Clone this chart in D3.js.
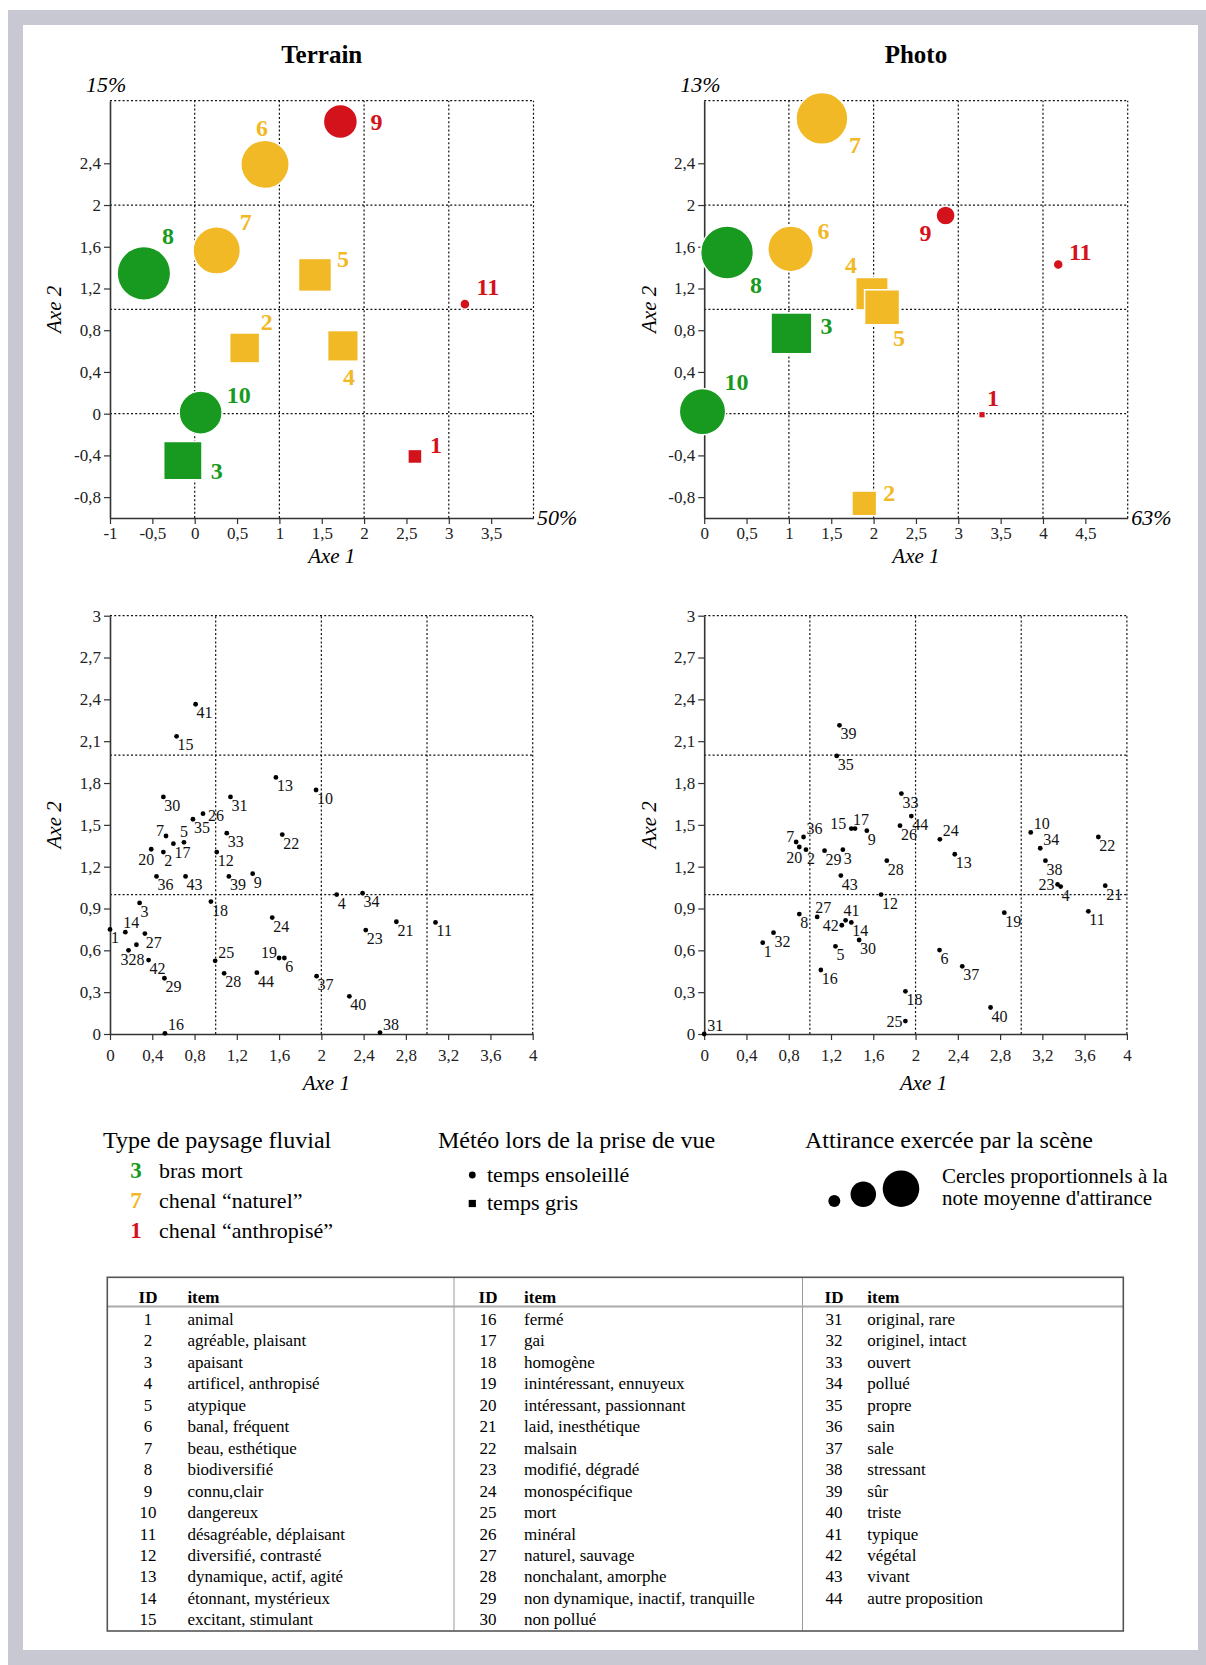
<!DOCTYPE html>
<html>
<head>
<meta charset="utf-8">
<title>Terrain / Photo</title>
<script src="https://cdn.jsdelivr.net/npm/d3@7"></script>
<style>
  body { margin: 0; background: #fff; }
  svg text { font-family: "Liberation Serif", "Times New Roman", serif; }
</style>
</head>
<body>
<svg id="fig" width="1206" height="1665"></svg>
<script>
// ---- scenes (top charts) ----
const sceneIds     = [1, 2, 3, 4, 5, 6, 7, 8, 9, 10, 11];
const sceneType    = ["anthropise", "naturel", "mort", "naturel", "naturel", "naturel", "naturel", "mort", "anthropise", "mort", "anthropise"];
const sceneWeather = ["gris", "gris", "gris", "gris", "gris", "soleil", "soleil", "soleil", "soleil", "soleil", "soleil"];

const terrainSceneX    = [2.60, 0.59, -0.14, 1.75, 1.42, 0.83, 0.26, -0.60, 1.72, 0.07, 3.19];
const terrainSceneY    = [-0.41, 0.63, -0.45, 0.65, 1.33, 2.39, 1.565, 1.345, 2.80, 0.01, 1.05];
const terrainSceneNote = [0.35, 1.59, 2.59, 1.66, 1.92, 3.25, 3.12, 3.99, 1.61, 2.57, 0.14];

const photoSceneX    = [3.28, 1.89, 1.03, 1.98, 2.10, 1.02, 1.39, 0.27, 2.85, -0.02, 4.18];
const photoSceneY    = [-0.01, -0.86, 0.77, 1.15, 1.02, 1.58, 2.83, 1.545, 1.90, 0.02, 1.43];
const photoSceneNote = [0.08, 1.08, 2.94, 1.86, 2.16, 2.89, 3.73, 3.87, 0.51, 2.99, 0.14];

const topXTicksTerrain = [-1, -0.5, 0, 0.5, 1, 1.5, 2, 2.5, 3, 3.5];
const topXTicksPhoto   = [0, 0.5, 1, 1.5, 2, 2.5, 3, 3.5, 4, 4.5];
const topYTicks        = [-0.8, -0.4, 0, 0.4, 0.8, 1.2, 1.6, 2, 2.4];

// ---- items (bottom charts) ----
const itemLabels = ["animal", "agréable, plaisant", "apaisant", "artificel, anthropisé", "atypique",
  "banal, fréquent", "beau, esthétique", "biodiversifié", "connu,clair", "dangereux",
  "désagréable, déplaisant", "diversifié, contrasté", "dynamique, actif, agité", "étonnant, mystérieux", "excitant, stimulant",
  "fermé", "gai", "homogène", "inintéressant, ennuyeux", "intéressant, passionnant",
  "laid, inesthétique", "malsain", "modifié, dégradé", "monospécifique", "mort",
  "minéral", "naturel, sauvage", "nonchalant, amorphe", "non dynamique, inactif, tranquille", "non pollué",
  "original, rare", "originel, intact", "ouvert", "pollué", "propre",
  "sain", "sale", "stressant", "sûr", "triste",
  "typique", "végétal", "vivant", "autre proposition"];

const terrainItemX = [0.00, 0.505, 0.28, 2.145, 0.70, 1.65, 0.53, 0.25, 1.35, 1.95,
  3.08, 1.01, 1.57, 0.145, 0.63, 0.52, 0.60, 0.955, 1.60, 0.39,
  2.71, 1.63, 2.42, 1.535, 0.995, 0.88, 0.33, 1.08, 0.515, 0.505,
  1.14, 0.175, 1.105, 2.39, 0.785, 0.44, 1.955, 2.555, 1.125, 2.265,
  0.81, 0.365, 0.715, 1.39];
const terrainItemY = [0.75, 1.305, 0.94, 1.00, 1.375, 0.545, 1.42, 0.64, 1.15, 1.75,
  0.80, 1.305, 1.84, 0.73, 2.135, 0.005, 1.365, 0.95, 0.545, 1.325,
  0.805, 1.43, 0.745, 0.835, 0.525, 1.58, 0.72, 0.435, 0.40, 1.70,
  1.70, 0.60, 1.44, 1.01, 1.54, 1.13, 0.415, 0.01, 1.13, 0.27,
  2.365, 0.53, 1.13, 0.44];

const photoItemX = [0.554, 0.963, 1.312, 3.373, 1.242, 2.227, 0.87, 0.90, 1.539, 3.09,
  3.635, 1.674, 2.371, 1.392, 1.392, 1.104, 1.427, 1.904, 2.84, 0.90,
  3.795, 3.73, 3.344, 2.23, 1.904, 1.853, 1.069, 1.728, 1.139, 1.466,
  0.00, 0.656, 1.866, 3.18, 1.254, 0.94, 2.442, 3.229, 1.28, 2.71,
  1.338, 1.302, 1.293, 1.96];
const photoItemY = [0.655, 1.322, 1.322, 1.057, 0.629, 0.602, 1.377, 0.86, 1.458, 1.446,
  0.88, 1.00, 1.289, 0.80, 1.473, 0.459, 1.473, 0.306, 0.87, 1.341,
  1.064, 1.413, 1.073, 1.396, 0.093, 1.494, 0.84, 1.243, 1.315, 0.674,
  0.00, 0.727, 1.724, 1.332, 1.994, 1.413, 0.485, 1.243, 2.214, 0.19,
  0.815, 0.78, 1.136, 1.563];

const bottomXTicks = [0, 0.4, 0.8, 1.2, 1.6, 2, 2.4, 2.8, 3.2, 3.6, 4];
const bottomYTicks = [0, 0.3, 0.6, 0.9, 1.2, 1.5, 1.8, 2.1, 2.4, 2.7, 3];

// ---- legend ----
const legendTypes   = [["3", "bras mort", "mort"], ["7", "chenal \u201cnaturel\u201d", "naturel"], ["1", "chenal \u201canthropisé\u201d", "anthropise"]];
const legendWeather = [["soleil", "temps ensoleillé"], ["gris", "temps gris"]];
const legendNotes   = [0.2, 0.9, 1.86];

// ---- styles / layout (not data) ----
const colors = { mort: "#189a20", naturel: "#f2b927", anthropise: "#d4121c" };
const axisColor = "#333";
const terrainLabelOff = {1:[21,-12], 2:[22,-26], 3:[34,10], 4:[6,31], 5:[28,-16], 6:[-3,-37], 7:[29,-29], 8:[24,-38], 9:[36,0], 10:[38,-18], 11:[23,-18]};
const photoLabelOff   = {1:[11,-17], 2:[25,-11], 3:[35,-8], 4:[-21,-29], 5:[17,30], 6:[33,-18], 7:[33,26], 8:[29,32], 9:[-20,17], 10:[34,-30], 11:[22,-13]};
const place = {
  br: [1, 14, "start"], ar: [3, -3, "start"], ab: [-2, -4, "start"], a: [0, -5, "middle"],
  l: [-2, 0, "end"], l3: [-5, 0, "end"], lb: [-3, 6, "end"], bl: [3, 16, "end"], bc: [0, 15, "middle"],
  b8: [0, 20, "start"], r: [5, 7, "start"]
};
const terrainItemPlace = {5:"a", 7:"l", 8:"b8", 14:"ab", 16:"ar", 19:"l", 20:"bl", 25:"ar", 26:"r", 32:"bc", 38:"ar"};
const photoItemPlace   = {7:"l", 10:"ar", 15:"l3", 17:"ab", 20:"bl", 23:"lb", 24:"ar", 25:"lb", 27:"ab", 31:"ar", 34:"ar", 36:"ar", 41:"ab", 42:"lb"};

const fmt = d => String(d).replace(".", ",");
const noteR = d3.scaleSqrt().domain([0, 5]).range([0, 30]);

const svg = d3.select("#fig");

// grey frame
svg.append("rect").attr("x", 8).attr("y", 10).attr("width", 1198).attr("height", 1655).attr("fill", "#c8c8d2");
svg.append("rect").attr("x", 23).attr("y", 25).attr("width", 1175).attr("height", 1625).attr("fill", "#fff");

function styleAxis(g) {
  g.select(".domain").attr("stroke", axisColor).attr("stroke-width", 1.6);
  g.selectAll(".tick line").attr("stroke", axisColor).attr("stroke-width", 1.2);
  g.selectAll(".tick text").attr("font-size", 17).attr("fill", "#222")
    .attr("font-family", "'Liberation Serif', 'Times New Roman', serif");
}

function frame(x, y, xGrid, yGrid, xTicks, yTicks, xPad) {
  const g = svg.append("g");
  const [x0, x1] = x.domain(), [y0, y1] = y.domain();
  g.selectAll(".vg").data(xGrid).join("line")
    .attr("x1", d => x(d)).attr("x2", d => x(d)).attr("y1", y(y0)).attr("y2", y(y1))
    .attr("stroke", "#111").attr("stroke-width", 1.2).attr("stroke-dasharray", "2,2.2");
  g.selectAll(".hg").data(yGrid).join("line")
    .attr("y1", d => y(d)).attr("y2", d => y(d)).attr("x1", x(x0)).attr("x2", x(x1))
    .attr("stroke", "#111").attr("stroke-width", 1.2).attr("stroke-dasharray", "2,2.2");
  g.append("g").attr("transform", `translate(0,${y(y0)})`)
    .call(d3.axisBottom(x).tickValues(xTicks).tickFormat(fmt).tickSize(6).tickPadding(xPad).tickSizeOuter(0))
    .call(styleAxis);
  g.append("g").attr("transform", `translate(${x(x0)},0)`)
    .call(d3.axisLeft(y).tickValues(yTicks).tickFormat(fmt).tickSize(6).tickPadding(3).tickSizeOuter(0))
    .call(styleAxis);
  return g;
}

function axisTitles(x, y, dx1, dy1, ax2x) {
  const [x0, x1] = x.range(), [yb, yt] = y.range();
  svg.append("text").attr("x", (x0 + x1) / 2 + dx1).attr("y", yb + dy1)
    .attr("text-anchor", "middle").attr("font-size", 21).attr("font-style", "italic").text("Axe 1");
  svg.append("text").attr("transform", `translate(${ax2x},${(yb + yt) / 2}) rotate(-90)`)
    .attr("text-anchor", "middle").attr("dy", "0.35em")
    .attr("font-size", 21).attr("font-style", "italic").text("Axe 2");
}

function sceneChart(opt) {
  const x = d3.scaleLinear().domain(opt.xDomain).range([opt.left, opt.left + 423.5]);
  const y = d3.scaleLinear().domain([-1, 3]).range([518, 100.7]);
  frame(x, y, opt.xGrid, [0, 1, 2, 3], opt.xTicks, topYTicks, 3);
  axisTitles(x, y, opt.axe1dx, 45, opt.left - 56);

  svg.append("text").attr("x", opt.left + 211.75).attr("y", 63)
    .attr("text-anchor", "middle").attr("font-size", 25).attr("font-weight", "bold").text(opt.title);
  svg.append("text").attr("x", opt.left - 24).attr("y", 92)
    .attr("font-size", 22).attr("font-style", "italic").text(opt.pctTop);
  svg.append("text").attr("x", opt.left + 427).attr("y", 525)
    .attr("font-size", 22).attr("font-style", "italic").text(opt.pctRight);

  const data = sceneIds.map((id, i) => ({
    id, x: opt.xs[i], y: opt.ys[i], note: opt.notes[i], type: sceneType[i], weather: sceneWeather[i]
  }));
  const g = svg.append("g");
  data.forEach(d => {
    const c = colors[d.type];
    if (d.weather === "gris") {
      const s = noteR(d.note) * Math.sqrt(Math.PI);
      g.append("rect").attr("x", x(d.x) - s / 2).attr("y", y(d.y) - s / 2)
        .attr("width", s).attr("height", s).attr("fill", c).attr("stroke", "#fff").attr("stroke-width", 1.5);
    } else {
      g.append("circle").attr("cx", x(d.x)).attr("cy", y(d.y)).attr("r", noteR(d.note))
        .attr("fill", c).attr("stroke", "#fff").attr("stroke-width", 1.5);
    }
  });
  g.selectAll(".lbl").data(data).join("text")
    .attr("x", d => x(d.x) + opt.labelOff[d.id][0])
    .attr("y", d => y(d.y) + opt.labelOff[d.id][1])
    .attr("dy", "0.35em").attr("text-anchor", "middle")
    .attr("font-size", 24).attr("font-weight", "bold")
    .attr("fill", d => colors[d.type]).text(d => d.id);
}

function itemChart(opt) {
  const x = d3.scaleLinear().domain([0, 4]).range([opt.left, opt.left + 422.7]);
  const y = d3.scaleLinear().domain([0, 3]).range([1034, 615.7]);
  frame(x, y, [1, 2, 3, 4], [1, 2, 3], bottomXTicks, bottomYTicks, 9);
  axisTitles(x, y, opt.axe1dx, 56, opt.left - 56);

  const data = itemLabels.map((lab, i) => ({ id: i + 1, x: opt.xs[i], y: opt.ys[i] }));
  const g = svg.append("g");
  g.selectAll("circle").data(data).join("circle")
    .attr("cx", d => x(d.x)).attr("cy", d => y(d.y)).attr("r", 2.4).attr("fill", "#000");
  g.selectAll("text").data(data).join("text")
    .each(function (d) {
      const p = place[opt.place[d.id] || "br"];
      d3.select(this).attr("x", x(d.x) + p[0]).attr("y", y(d.y) + p[1]).attr("text-anchor", p[2]);
    })
    .attr("font-size", 16).attr("fill", "#111").text(d => d.id);
}

sceneChart({ left: 110, xDomain: [-1, 4], xGrid: [0, 1, 2, 3, 4], xTicks: topXTicksTerrain,
  xs: terrainSceneX, ys: terrainSceneY, notes: terrainSceneNote, labelOff: terrainLabelOff,
  title: "Terrain", pctTop: "15%", pctRight: "50%", axe1dx: 10 });
sceneChart({ left: 704.2, xDomain: [0, 5], xGrid: [1, 2, 3, 4, 5], xTicks: topXTicksPhoto,
  xs: photoSceneX, ys: photoSceneY, notes: photoSceneNote, labelOff: photoLabelOff,
  title: "Photo", pctTop: "13%", pctRight: "63%", axe1dx: 0 });

itemChart({ left: 110, xs: terrainItemX, ys: terrainItemY, place: terrainItemPlace, axe1dx: 5 });
itemChart({ left: 704.2, xs: photoItemX, ys: photoItemY, place: photoItemPlace, axe1dx: 8 });

// ---- legend ----
const lg = svg.append("g");
lg.append("text").attr("x", 103).attr("y", 1148).attr("font-size", 24).text("Type de paysage fluvial");
legendTypes.forEach((t, i) => {
  const yy = 1178 + i * 30;
  lg.append("text").attr("x", 136).attr("y", yy).attr("text-anchor", "middle")
    .attr("font-size", 23).attr("font-weight", "bold").attr("fill", colors[t[2]]).text(t[0]);
  lg.append("text").attr("x", 159).attr("y", yy).attr("font-size", 22).text(t[1]);
});

lg.append("text").attr("x", 438).attr("y", 1148).attr("font-size", 24).text("Météo lors de la prise de vue");
legendWeather.forEach((w, i) => {
  const cy = 1175 + i * 28.5;
  if (w[0] === "gris") {
    lg.append("rect").attr("x", 472.3 - 3.6).attr("y", cy - 3.6).attr("width", 7.2).attr("height", 7.2).attr("fill", "#000");
  } else {
    lg.append("circle").attr("cx", 472.3).attr("cy", cy).attr("r", 3.4).attr("fill", "#000");
  }
  lg.append("text").attr("x", 487).attr("y", cy + 6.5).attr("font-size", 22).text(w[1]);
});

lg.append("text").attr("x", 805).attr("y", 1148).attr("font-size", 24).text("Attirance exercée par la scène");
const legendCx = [834.3, 863.3, 901];
legendNotes.forEach((n, i) => {
  lg.append("circle").attr("cx", legendCx[i]).attr("cy", 1207 - noteR(n)).attr("r", noteR(n)).attr("fill", "#000");
});
lg.append("text").attr("x", 942).attr("y", 1183).attr("font-size", 21).text("Cercles proportionnels à la");
lg.append("text").attr("x", 942).attr("y", 1205).attr("font-size", 21).text("note moyenne d'attirance");

// ---- table ----
const tb = svg.append("g");
const tL = 107.3, tR = 1123.3, tT = 1277.3, tB = 1631;
const colDiv = [454, 802.5];
const colId = [148, 488, 834];
const colItem = [187.4, 524, 867.3];
colDiv.forEach(xv => tb.append("line").attr("x1", xv).attr("x2", xv).attr("y1", tT).attr("y2", tB)
  .attr("stroke", "#9a9a9a").attr("stroke-width", 1));
tb.append("line").attr("x1", tL).attr("x2", tR).attr("y1", 1306.5).attr("y2", 1306.5)
  .attr("stroke", "#aaa").attr("stroke-width", 2);
tb.append("rect").attr("x", tL).attr("y", tT).attr("width", tR - tL).attr("height", tB - tT)
  .attr("fill", "none").attr("stroke", "#555").attr("stroke-width", 1.6);
colId.forEach((cx, c) => {
  tb.append("text").attr("x", cx).attr("y", 1303).attr("text-anchor", "middle")
    .attr("font-size", 17).attr("font-weight", "bold").text("ID");
  tb.append("text").attr("x", colItem[c]).attr("y", 1303)
    .attr("font-size", 17).attr("font-weight", "bold").text("item");
});
itemLabels.forEach((lab, i) => {
  const c = Math.floor(i / 15), r = i % 15;
  const yy = 1325 + r * 21.45;
  tb.append("text").attr("x", colId[c]).attr("y", yy).attr("text-anchor", "middle")
    .attr("font-size", 17).text(i + 1);
  tb.append("text").attr("x", colItem[c]).attr("y", yy).attr("font-size", 17).text(lab);
});
</script>
</body>
</html>
